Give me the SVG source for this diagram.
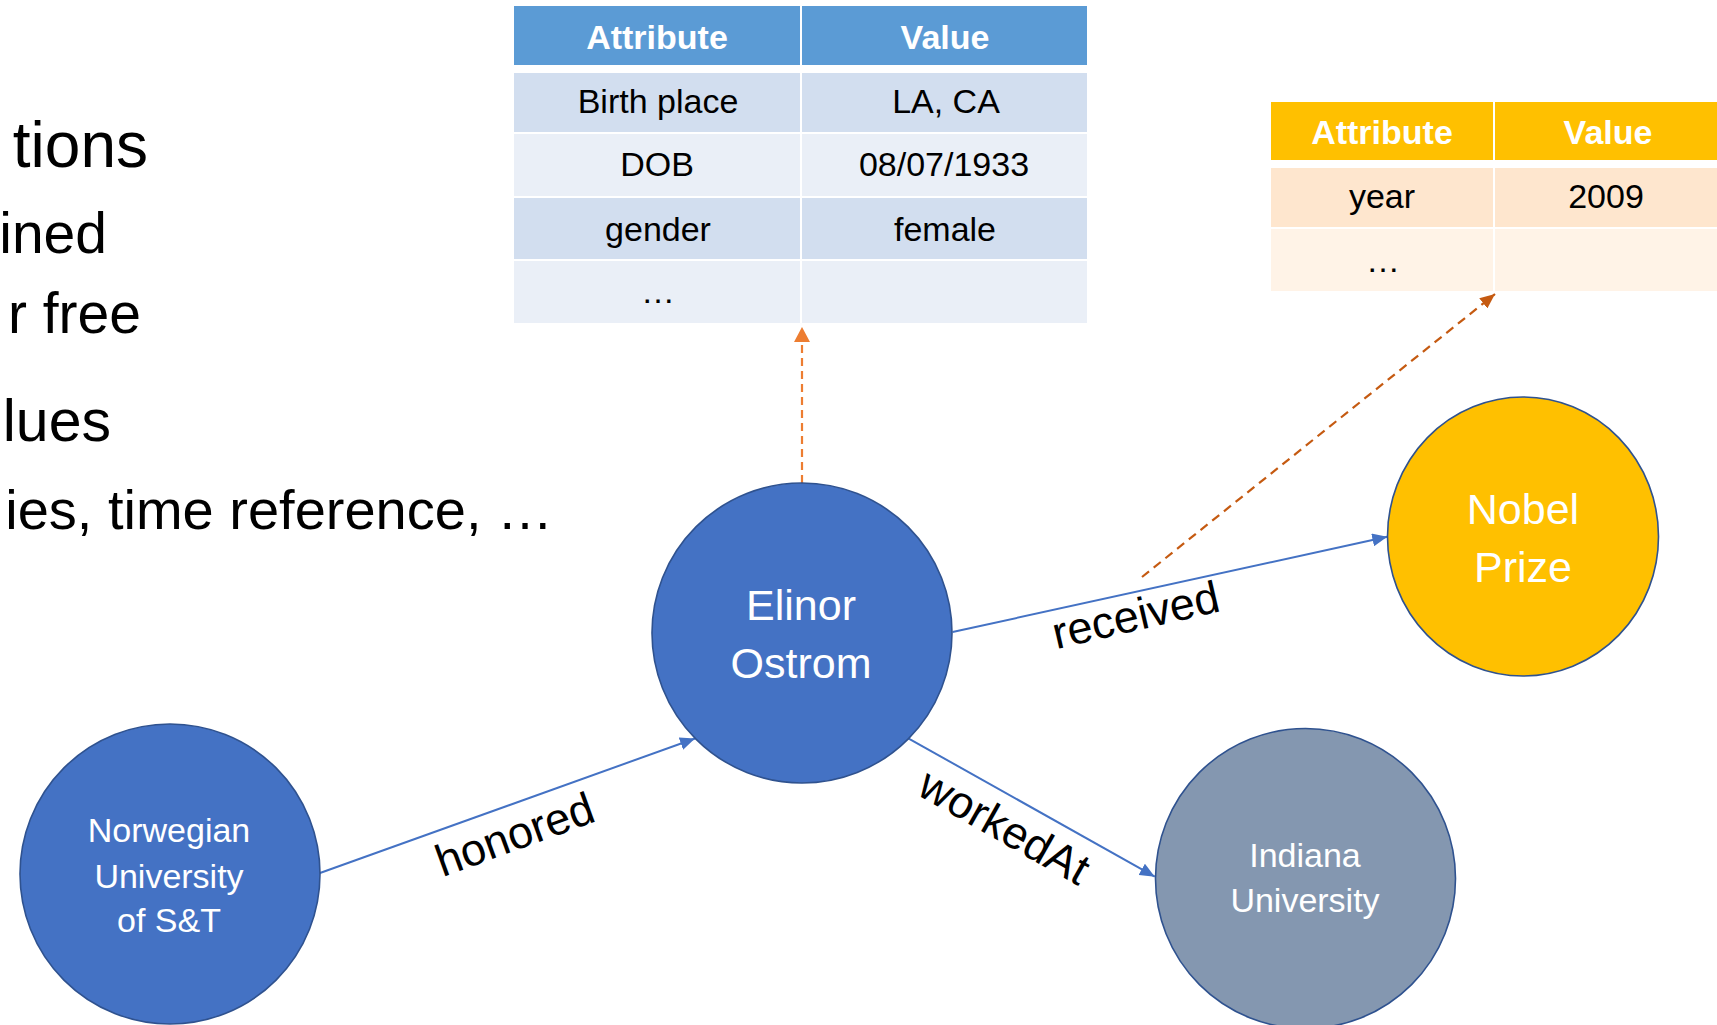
<svg xmlns="http://www.w3.org/2000/svg" width="1717" height="1025" viewBox="0 0 1717 1025">
<style>
text{font-family:"Liberation Sans",Arial,sans-serif}
.bul{fill:#000;text-anchor:end}
.l1{font-size:64px}
.l2{font-size:57px}
.th{fill:#fff;font-weight:bold;font-size:34px;text-anchor:middle}
.td{fill:#000;font-size:34px;text-anchor:middle}
.nl{fill:#fff;font-size:43px;text-anchor:middle}
.ns{fill:#fff;font-size:34px;text-anchor:middle}
.el{fill:#000;font-size:45px;text-anchor:middle}
.node{stroke:#2F528F;stroke-width:1.6}
.edge{fill:none;stroke:#4472C4;stroke-width:2}
.dash1{fill:none;stroke:#ED7D31;stroke-width:2.2;stroke-dasharray:8 5}
.dash2{fill:none;stroke:#C55A11;stroke-width:2.2;stroke-dasharray:9 6}
</style>
<defs>
<marker id="ab" markerUnits="userSpaceOnUse" markerWidth="15" markerHeight="13" refX="15" refY="6.5" orient="auto"><path d="M0,0 L15,6.5 L0,13 z" fill="#4472C4"/></marker>
<marker id="ao" markerUnits="userSpaceOnUse" markerWidth="15" markerHeight="16" refX="15" refY="8" orient="auto"><path d="M0,0 L15,8 L0,16 z" fill="#ED7D31"/></marker>
<marker id="ad" markerUnits="userSpaceOnUse" markerWidth="15" markerHeight="13" refX="15" refY="6.5" orient="auto"><path d="M0,0 L15,6.5 L0,13 z" fill="#C55A11"/></marker>
</defs>
<rect width="1717" height="1025" fill="#fff"/>

<g id="bullets">
<text class="bul l1" x="148" y="167">tions</text>
<text class="bul l2" x="107" y="253">ined</text>
<text class="bul l2" x="141" y="333">r free</text>
<text class="bul" style="font-size:59px" x="111" y="441">lues</text>
<text class="bul" style="font-size:56px" x="553" y="529">ies, time reference, …</text>
</g>

<g id="table-person">
<rect x="514" y="6" width="286" height="59" fill="#5B9BD5"/>
<rect x="802" y="6" width="285" height="59" fill="#5B9BD5"/>
<rect x="514" y="73" width="286" height="59" fill="#D2DEEF"/>
<rect x="802" y="73" width="285" height="59" fill="#D2DEEF"/>
<rect x="514" y="134" width="286" height="62" fill="#EAEFF7"/>
<rect x="802" y="134" width="285" height="62" fill="#EAEFF7"/>
<rect x="514" y="198" width="286" height="61" fill="#D2DEEF"/>
<rect x="802" y="198" width="285" height="61" fill="#D2DEEF"/>
<rect x="514" y="261" width="286" height="62" fill="#EAEFF7"/>
<rect x="802" y="261" width="285" height="62" fill="#EAEFF7"/>
<text class="th" x="657" y="49">Attribute</text>
<text class="th" x="945" y="49">Value</text>
<text class="td" x="658" y="113">Birth place</text>
<text class="td" x="946" y="113">LA, CA</text>
<text class="td" x="657" y="176">DOB</text>
<text class="td" x="944" y="176">08/07/1933</text>
<text class="td" x="658" y="241">gender</text>
<text class="td" x="945" y="241">female</text>
<text class="td" x="658" y="303">…</text>
</g>

<g id="table-award">
<rect x="1271" y="102" width="222" height="58" fill="#FFC000"/>
<rect x="1495" y="102" width="230" height="58" fill="#FFC000"/>
<rect x="1271" y="168" width="222" height="59" fill="#FEE6CE"/>
<rect x="1495" y="168" width="230" height="59" fill="#FEE6CE"/>
<rect x="1271" y="229" width="222" height="62" fill="#FFF3E7"/>
<rect x="1495" y="229" width="230" height="62" fill="#FFF3E7"/>
<text class="th" x="1382" y="144">Attribute</text>
<text class="th" x="1608" y="144">Value</text>
<text class="td" x="1382" y="208">year</text>
<text class="td" x="1606" y="208">2009</text>
<text class="td" x="1383" y="272">…</text>
</g>

<g id="connectors">
<path class="edge" d="M320,873 L695,738.5" marker-end="url(#ab)"/>
<path class="edge" d="M952.6,632 L1387.3,536.7" marker-end="url(#ab)"/>
<path class="edge" d="M908.3,738.3 L1154.8,876.7" marker-end="url(#ab)"/>
<path class="dash1" d="M802,483 L802,327" marker-end="url(#ao)"/>
<path class="dash2" d="M1142,577 L1495,294" marker-end="url(#ad)"/>
</g>

<g id="edge-labels">
<text class="el" transform="translate(520,849) rotate(-20)">honored</text>
<text class="el" transform="translate(1139,630) rotate(-13)">received</text>
<text class="el" transform="translate(997,840) rotate(29.5)">workedAt</text>
</g>

<g id="node-elinor">
<circle class="node" cx="802" cy="633" r="150" fill="#4472C4"/>
<text class="nl" x="801" y="620">Elinor</text>
<text class="nl" x="801" y="678">Ostrom</text>
</g>

<g id="node-nobel">
<ellipse class="node" cx="1523" cy="536.5" rx="135.5" ry="139.5" fill="#FFC000"/>
<text class="nl" x="1523" y="524">Nobel</text>
<text class="nl" x="1523" y="582">Prize</text>
</g>

<g id="node-norwegian">
<circle class="node" cx="170" cy="874" r="150" fill="#4472C4"/>
<text class="ns" x="169" y="842">Norwegian</text>
<text class="ns" x="169" y="888">University</text>
<text class="ns" x="169" y="932">of S&amp;T</text>
</g>

<g id="node-indiana">
<circle class="node" cx="1305.5" cy="878.5" r="150" fill="#8497B0"/>
<text class="ns" x="1305" y="867">Indiana</text>
<text class="ns" x="1305" y="912">University</text>
</g>
</svg>
